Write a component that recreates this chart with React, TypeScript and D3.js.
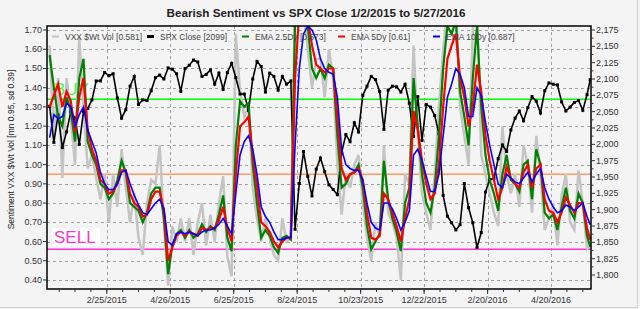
import React from "react";
import * as d3 from "d3";

// ---------------- DATA ----------------
const seriesStart = "2015-01-02";
const sampleStepDays = 4;
const seriesEnd = "2016-05-27";

const vxxWtVol = [
  1.62, 1.15, 1.45, 0.93, 1.45, 1.25, 1.0, 1.66, 1.3, 0.98, 1.05, 0.93, 0.82, 0.95, 0.7, 0.95,
  0.78, 1.08, 0.88, 0.7, 0.85, 0.62, 0.53, 0.8, 0.92, 0.9, 1.1, 0.7, 0.37, 0.68, 0.6, 0.72,
  0.6, 0.72, 0.53, 0.7, 0.8, 0.58, 0.74, 0.6, 0.8, 0.94, 0.52, 0.42, 1.68, 1.38, 1.25, 1.3,
  0.88, 0.72, 0.6, 0.72, 0.62, 0.53, 0.5, 0.72, 0.6, 0.62, 1.85, 1.9, 1.8, 1.6, 1.4, 1.55,
  1.55, 1.35, 1.6, 1.45, 1.0, 0.74, 0.95, 0.88, 1.0, 1.05, 0.8, 0.62, 0.5, 0.7, 0.62, 1.1,
  0.75, 0.7, 0.62, 0.4, 0.95, 0.9, 1.62, 1.15, 0.85, 0.75, 0.66, 0.95, 1.3, 1.6, 1.8, 1.75, 1.85,
  1.3, 1.15, 1.0, 1.7, 1.85, 1.05, 0.95, 0.85, 0.75, 0.68, 1.2, 0.95, 0.85, 0.95, 0.78, 1.1,
  1.0, 0.75, 1.15, 0.95, 0.66, 0.72, 0.8, 0.58, 0.84, 0.95, 0.7, 0.66, 0.97, 0.8, 0.56, 0.58,
];

const spxClose = [
  2058, 2003, 2045, 1995, 2019, 2050, 2040, 2000, 2050, 2055, 2068, 2097, 2097, 2110, 2105, 2108,
  2071, 2040, 2053, 2089, 2104, 2061, 2068, 2067, 2082, 2102, 2106, 2100, 2117, 2115, 2108, 2081,
  2116, 2121, 2129, 2126, 2104, 2107, 2114, 2092, 2109, 2084, 2110, 2124, 2102, 2077, 2077, 2052,
  2100, 2127, 2119, 2080, 2109, 2104, 2083, 2104, 2092, 2097, 1870, 1940, 1989, 1951, 1921, 1962,
  1979, 1958, 1938, 1931, 1923, 1987, 2015, 2004, 2033, 2019, 2075, 2089, 2104, 2099, 2081, 2023,
  2083, 2089, 2088, 2080, 2092, 2063, 2012, 2073, 2006, 2061, 2057, 2044, 2016, 1922, 1890, 1880, 1869,
  1877, 1940, 1903, 1880, 1842, 1865, 1927, 1946, 1948, 1978, 1999, 1989, 2022, 2040, 2051, 2036,
  2056, 2073, 2066, 2048, 2082, 2094, 2092, 2091, 2065, 2051, 2057, 2064, 2067, 2052, 2076, 2099,
];

const ema25Dy = [
  1.57, 1.4, 1.25, 1.2, 1.35, 1.28, 1.12, 1.45, 1.55, 1.12, 1.05, 1.0, 0.9, 0.88, 0.82, 0.85,
  0.92, 1.02, 0.96, 0.8, 0.78, 0.76, 0.7, 0.75, 0.85, 0.88, 0.88, 0.72, 0.43, 0.58, 0.64, 0.66,
  0.62, 0.66, 0.62, 0.64, 0.69, 0.65, 0.68, 0.66, 0.74, 0.84, 0.62, 0.55, 1.1, 1.33, 1.3, 1.32,
  1.0, 0.8, 0.62, 0.66, 0.63, 0.57, 0.54, 0.62, 0.63, 0.61, 1.75, 1.85, 1.82, 1.72, 1.5, 1.45,
  1.5, 1.45, 1.52, 1.5, 1.15, 0.88, 0.9, 0.95, 0.96, 1.0, 0.88, 0.68, 0.56, 0.6, 0.64, 1.02,
  0.82, 0.72, 0.65, 0.55, 0.8, 0.88, 1.45, 1.2, 0.95, 0.8, 0.75, 0.88, 1.15, 1.5, 1.72, 1.68, 1.75,
  1.38, 1.25, 1.1, 1.45, 1.72, 1.3, 1.05, 0.92, 0.85, 0.76, 0.95, 1.05, 0.92, 0.9, 0.86, 1.0,
  1.02, 0.82, 1.08, 1.0, 0.75, 0.72, 0.74, 0.66, 0.78, 0.88, 0.76, 0.72, 0.85, 0.8, 0.63, 0.573,
];

const ema5Dy = [
  1.3, 1.36, 1.42, 1.3, 1.38, 1.33, 1.17, 1.35, 1.45, 1.18, 1.08, 1.02, 0.92, 0.9, 0.85, 0.86,
  0.9, 0.97, 0.97, 0.85, 0.8, 0.78, 0.73, 0.74, 0.82, 0.86, 0.86, 0.76, 0.5, 0.57, 0.63, 0.65,
  0.63, 0.65, 0.64, 0.63, 0.67, 0.66, 0.67, 0.67, 0.71, 0.78, 0.67, 0.6, 0.95, 1.2, 1.22, 1.25,
  1.05, 0.88, 0.7, 0.68, 0.65, 0.6, 0.57, 0.6, 0.62, 0.62, 1.45, 1.8, 1.82, 1.76, 1.62, 1.52,
  1.5, 1.48, 1.5, 1.5, 1.25, 0.98, 0.92, 0.95, 0.96, 0.98, 0.92, 0.75, 0.62, 0.61, 0.63, 0.85,
  0.82, 0.75, 0.68, 0.6, 0.72, 0.82, 1.28, 1.18, 1.02, 0.9, 0.82, 0.85, 1.0, 1.3, 1.55, 1.62, 1.68,
  1.45, 1.35, 1.2, 1.3, 1.52, 1.38, 1.15, 1.02, 0.92, 0.82, 0.88, 0.99, 0.93, 0.9, 0.88, 0.96,
  1.0, 0.88, 0.98, 1.0, 0.82, 0.76, 0.75, 0.7, 0.75, 0.83, 0.79, 0.75, 0.8, 0.8, 0.67, 0.61,
];

const ema10Dy = [
  1.14, 1.26, 1.24, 1.25, 1.32, 1.3, 1.2, 1.26, 1.3, 1.18, 1.12, 1.06, 0.96, 0.9, 0.87, 0.87,
  0.9, 0.96, 0.97, 0.9, 0.84, 0.79, 0.75, 0.74, 0.77, 0.8, 0.82, 0.77, 0.6, 0.58, 0.64, 0.65,
  0.64, 0.65, 0.64, 0.63, 0.65, 0.66, 0.66, 0.67, 0.69, 0.72, 0.68, 0.64, 0.85, 1.05, 1.12, 1.15,
  1.08, 0.95, 0.78, 0.73, 0.7, 0.65, 0.61, 0.61, 0.62, 0.62, 1.1, 1.5, 1.68, 1.72, 1.7, 1.65,
  1.55, 1.5, 1.48, 1.47, 1.35, 1.08, 1.0, 0.98, 0.97, 0.97, 0.92, 0.8, 0.7, 0.67, 0.66, 0.8,
  0.8, 0.77, 0.72, 0.66, 0.7, 0.76, 1.05, 1.08, 1.02, 0.94, 0.86, 0.86, 0.95, 1.15, 1.35, 1.42, 1.5,
  1.47, 1.4, 1.25, 1.25, 1.4, 1.36, 1.22, 1.1, 1.0, 0.9, 0.88, 0.95, 0.93, 0.91, 0.9, 0.93,
  0.96, 0.91, 0.95, 0.98, 0.88, 0.82, 0.78, 0.75, 0.76, 0.79, 0.78, 0.76, 0.78, 0.8, 0.73, 0.687,
];

const leftTicks = [0.4, 0.5, 0.6, 0.7, 0.8, 0.9, 1.0, 1.1, 1.2, 1.3, 1.4, 1.5, 1.6, 1.7];
const rightTicks = [1800, 1825, 1850, 1875, 1900, 1925, 1950, 1975, 2000, 2025, 2050, 2075, 2100, 2125, 2150, 2175];
const xTickLabels = ["2/25/2015", "4/26/2015", "6/25/2015", "8/24/2015", "10/23/2015", "12/22/2015", "2/20/2016", "4/20/2016"];

const sentimentMean = 0.95;
const sentimentSd = 0.39;

const legendItems = [
  { name: "VXX $Wt Vol [0.581]", color: "#c4c4c4" },
  { name: "SPX Close [2099]", color: "#000000" },
  { name: "EMA 2.5Dy [0.573]", color: "#008000" },
  { name: "EMA 5Dy [0.61]", color: "#ff0000" },
  { name: "EMA 10Dy [0.687]", color: "#0000ff" },
];

// ---------------- LAYOUT ----------------
const W = 640;
const H = 309;
const L = 47;
const R = 591;
const T = 26;
const B = 289;
const FONT = "'Liberation Sans', Arial, sans-serif";

const parseISO = d3.timeParse("%Y-%m-%d");
const parseUS = d3.timeParse("%m/%d/%Y");
const fmtUS = d3.timeFormat("%-m/%-d/%Y");

export default function App() {
  const start = parseISO(seriesStart) as Date;
  const end = parseISO(seriesEnd) as Date;
  const n = vxxWtVol.length;
  const dates = vxxWtVol.map((_, i) =>
    i === n - 1 ? end : d3.timeDay.offset(start, i * sampleStepDays)
  );

  const x = d3
    .scaleTime()
    .domain([new Date(2014, 11, 30, 12), new Date(2016, 4, 27, 18)])
    .range([L, R]);
  const yL = d3.scaleLinear().domain([0.353, 1.721]).range([B, T]);
  const yR = d3.scaleLinear().domain([1778.6, 2181.1]).range([B, T]);

  const lineL = (vals: number[]) =>
    d3
      .line<number>()
      .x((_, i) => x(dates[i]))
      .y((v) => yL(v))(vals) as string;
  const lineR = d3
    .line<number>()
    .x((_, i) => x(dates[i]))
    .y((v) => yR(v))(spxClose) as string;

  const xMajor = xTickLabels.map((s) => parseUS(s) as Date);
  const xMinor: Date[] = [];
  {
    let d = d3.timeDay.offset(xMajor[0], -45);
    while (d <= x.domain()[1]) {
      if (d >= x.domain()[0]) xMinor.push(d);
      d = d3.timeDay.offset(d, 15);
    }
  }
  const rightMinor = rightTicks.slice(0, -1).map((t, i) => (t + rightTicks[i + 1]) / 2);

  const buyLevel = sentimentMean + sentimentSd;
  const sellLevel = sentimentMean - sentimentSd;

  const legendX = [52, 147, 242, 338, 433];

  return (
    <div style={{ position: "fixed", left: 0, top: 0, width: W, height: H }}>
      <svg width={W} height={H} style={{ display: "block", fontFamily: FONT }}>
        <defs>
          <clipPath id="plotClip">
            <rect x={L} y={T} width={R - L} height={B - T} />
          </clipPath>
        </defs>
        <rect x={0} y={0} width={W} height={H} fill="#f4f4f4" />
        <line x1={637.5} y1={0} x2={637.5} y2={308} stroke="#cfcfcf" />
        <line x1={0} y1={307.5} x2={638} y2={307.5} stroke="#cfcfcf" />

        {/* title */}
        <text x={316} y={17} textAnchor="middle" fontSize={11.7} fontWeight="bold" fill="#222">
          Bearish Sentiment vs SPX Close 1/2/2015 to 5/27/2016
        </text>

        {/* grid */}
        {leftTicks.map((t) => (
          <line key={"g" + t} x1={L} x2={R} y1={Math.round(yL(t)) + 0.5} y2={Math.round(yL(t)) + 0.5}
            stroke="#8a8a8a" strokeDasharray="3,3" strokeWidth={0.8} />
        ))}
        {xMajor.map((d, i) => (
          <line key={"vg" + i} x1={Math.round(x(d)) + 0.5} x2={Math.round(x(d)) + 0.5} y1={T} y2={B}
            stroke="#8a8a8a" strokeDasharray="3,3" strokeWidth={0.8} />
        ))}

        {/* labels under lines */}
        <rect x={52} y={80} width={38} height={17} fill="#ffffff" />
        <text x={54} y={95} fontSize={17} fill="#33ff33">BUY</text>
        <rect x={52} y={228} width={48} height={18} fill="#ffffff" />
        <text x={54} y={243} fontSize={17} fill="#ff33cc">SELL</text>

        {/* reference lines */}
        <line x1={L} x2={R} y1={yL(buyLevel)} y2={yL(buyLevel)} stroke="#00ff00" strokeWidth={1.5} />
        <line x1={L} x2={R} y1={yL(sentimentMean)} y2={yL(sentimentMean)} stroke="#ff9966" strokeWidth={1.5} />
        <line x1={L} x2={R} y1={yL(sellLevel)} y2={yL(sellLevel)} stroke="#ff33cc" strokeWidth={1.5} />

        {/* series */}
        <g clipPath="url(#plotClip)">
          <path d={lineL(vxxWtVol)} fill="none" stroke="#c4c4c4" strokeWidth={2.5} />
          <path d={lineR} fill="none" stroke="#000" strokeWidth={1.6} />
          {spxClose.map((v, i) => (
            <rect key={"m" + i} x={x(dates[i]) - 1.5} y={yR(v) - 1.5} width={3} height={3} fill="#000" />
          ))}
          <path d={lineL(ema25Dy)} fill="none" stroke="#008000" strokeWidth={2.2} />
          <path d={lineL(ema5Dy)} fill="none" stroke="#ff0000" strokeWidth={2.2} />
          <path d={lineL(ema10Dy)} fill="none" stroke="#0000ff" strokeWidth={1.6} />
        </g>

        {/* legend */}
        {legendItems.map((it, i) => (
          <g key={"lg" + i}>
            <line x1={legendX[i]} x2={legendX[i] + 7} y1={36.5} y2={36.5} stroke={it.color}
              strokeWidth={i === 1 ? 3 : 2} />
            <text x={legendX[i] + 13} y={39.5} fontSize={8.5} fill="#444">{it.name}</text>
          </g>
        ))}

        {/* frame */}
        <rect x={L} y={T} width={R - L} height={B - T} fill="none" stroke="#000" strokeWidth={1.5} />

        {/* left axis */}
        {leftTicks.map((t) => (
          <g key={"lt" + t}>
            <line x1={L - 4} x2={L} y1={yL(t)} y2={yL(t)} stroke="#333" />
            <text x={L - 5} y={yL(t) + 3} textAnchor="end" fontSize={9} fill="#333">{t.toFixed(2)}</text>
          </g>
        ))}
        <text transform={`translate(14,${(T + B) / 2 - 8}) rotate(-90)`} textAnchor="middle" fontSize={8.5} fill="#222">
          Sentiment VXX $Wt Vol [mn 0.95, sd 0.39]
        </text>

        {/* right axis */}
        {rightTicks.map((t) => (
          <g key={"rt" + t}>
            <line x1={R} x2={R + 4} y1={yR(t)} y2={yR(t)} stroke="#333" />
            <text x={R + 5} y={yR(t) + 3} fontSize={9} fill="#333">{d3.format(",")(t)}</text>
          </g>
        ))}
        {rightMinor.map((t) => (
          <line key={"rm" + t} x1={R} x2={R + 2.5} y1={yR(t)} y2={yR(t)} stroke="#333" />
        ))}

        {/* bottom axis */}
        {xMinor.map((d, i) => (
          <line key={"xm" + i} x1={x(d)} x2={x(d)} y1={B} y2={B + 3} stroke="#333" />
        ))}
        {xMajor.map((d, i) => (
          <g key={"xt" + i}>
            <line x1={x(d)} x2={x(d)} y1={B} y2={B + 5} stroke="#333" />
            <text x={x(d)} y={303} textAnchor="middle" fontSize={9} fill="#333">{fmtUS(d)}</text>
          </g>
        ))}
      </svg>
    </div>
  );
}
